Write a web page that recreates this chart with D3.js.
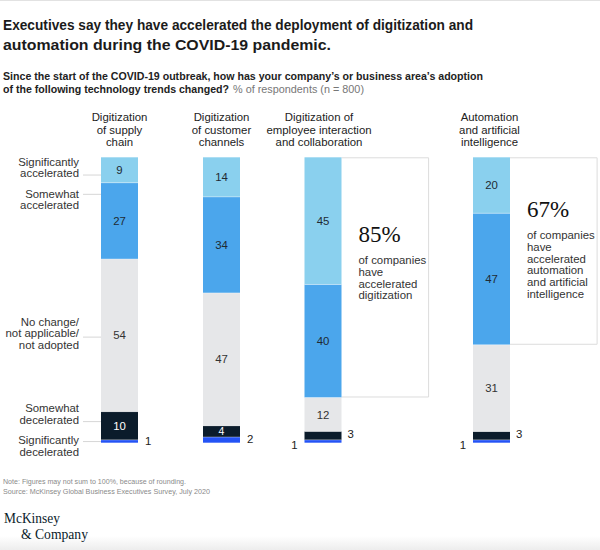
<!DOCTYPE html>
<html><head><meta charset="utf-8">
<script src="https://cdn.jsdelivr.net/npm/d3@7"></script>
<style>
html,body{margin:0;padding:0;background:#fff;}
svg{display:block;font-family:"Liberation Sans",Arial,sans-serif;}
</style></head>
<body>
<svg id="chart" width="600" height="550"></svg>
<script>
// ---------- data ----------
const categories = [
  ["Digitization", "of supply", "chain"],
  ["Digitization", "of customer", "channels"],
  ["Digitization of", "employee interaction", "and collaboration"],
  ["Automation", "and artificial", "intelligence"]
];
const levels = [
  ["Significantly", "accelerated"],
  ["Somewhat", "accelerated"],
  ["No change/", "not applicable/", "not adopted"],
  ["Somewhat", "decelerated"],
  ["Significantly", "decelerated"]
];
const sigAccelerated = [9, 14, 45, 20];
const somAccelerated = [27, 34, 40, 47];
const noChange       = [54, 47, 12, 31];
const somDecelerated = [10, 4, 3, 3];
const sigDecelerated = [1, 2, 1, 1];
const calloutBars = [2, 3];
const calloutText = [
  ["of companies", "have", "accelerated", "digitization"],
  ["of companies", "have", "accelerated", "automation", "and artificial", "intelligence"]
];
const titleLines = [
  "Executives say they have accelerated the deployment of digitization and",
  "automation during the COVID-19 pandemic."
];
const subtitleLine1 = "Since the start of the COVID-19 outbreak, how has your company\u2019s or business area\u2019s adoption";
const subtitleLine2 = "of the following technology trends changed?";
const subtitleUnit = "% of respondents (n = 800)";
const notes = [
  "Note: Figures may not sum to 100%, because of rounding.",
  "Source: McKinsey Global Business Executives Survey, July 2020"
];
const logoLines = ["McKinsey", "& Company"];

// ---------- layout ----------
const series = [sigAccelerated, somAccelerated, noChange, somDecelerated, sigDecelerated];
const colors = ["#8AD0EE", "#4BA6EC", "#E6E7E9", "#0B1C2B", "#2453F5"];
const textColors = ["#1f2a33", "#1f2a33", "#333", "#fff", "#fff"];
const barW = 37;
const barTop = 157.3, barBottom = 442.7;
const svg = d3.select("#chart");

const x = d3.scaleLinear().domain([0, 1, 2, 3]).range([119.5, 221.5, 323, 491.5]);

// stacked order from bottom: sigDec, somDec, noChange, somAcc, sigAcc
const stackOrder = [4, 3, 2, 1, 0];
const bars = categories.map((c, i) => {
  const total = d3.sum(series, s => s[i]);
  const y = d3.scaleLinear().domain([0, total]).range([barBottom, barTop]);
  let cum = 0;
  const segs = {};
  stackOrder.forEach(k => {
    const v = series[k][i];
    segs[k] = {k, v, y0: y(cum), y1: y(cum + v)};
    cum += v;
  });
  return {i, y, segs, total};
});

// top line
svg.append("rect").attr("x", 0).attr("y", 0).attr("width", 600).attr("height", 1).attr("fill", "#e2e2e2");
// bottom strip
const grad = svg.append("defs").append("linearGradient").attr("id", "bg").attr("x1", 0).attr("x2", 0).attr("y1", 0).attr("y2", 1);
grad.append("stop").attr("offset", "0").attr("stop-color", "#fff");
grad.append("stop").attr("offset", "1").attr("stop-color", "#ededed");
svg.append("rect").attr("x", 0).attr("y", 536).attr("width", 600).attr("height", 14).attr("fill", "url(#bg)");

// title
const titleW = [470, 328];
svg.append("g").selectAll("text").data(titleLines).join("text")
  .attr("x", 3).attr("y", (d, i) => 30 + i * 19.5)
  .attr("font-size", 15.5).attr("font-weight", "bold").attr("fill", "#1b1b1b")
  .attr("textLength", (d, i) => titleW[i]).attr("lengthAdjust", "spacingAndGlyphs")
  .text(d => d);

// subtitle
svg.append("text").attr("x", 3).attr("y", 80).attr("font-size", 11.6).attr("font-weight", "bold").attr("fill", "#222")
  .attr("textLength", 480).attr("lengthAdjust", "spacingAndGlyphs")
  .text(subtitleLine1);
const sub2 = svg.append("text").attr("x", 3).attr("y", 93.3).attr("font-size", 10.6).attr("font-weight", "bold").attr("fill", "#222")
  .text(subtitleLine2);
const sub2Len = sub2.node().getComputedTextLength();
svg.append("text").attr("x", 3 + sub2Len + 4).attr("y", 93.3).attr("font-size", 11.6).attr("fill", "#777")
  .attr("textLength", 131).attr("lengthAdjust", "spacingAndGlyphs")
  .text(subtitleUnit);

// column headers
const hdr = svg.append("g").attr("font-size", 11.4).attr("fill", "#222").attr("text-anchor", "middle");
categories.forEach((lines, i) => {
  const cx = x(i) + (i === 2 ? -4 : (i === 3 ? -2 : 0));
  lines.forEach((l, j) => {
    hdr.append("text").attr("x", cx).attr("y", 121 + j * 12.5).text(l);
  });
});

// callout boxes
calloutBars.forEach((b, n) => {
  const bar = bars[b];
  const xl = x(b) + barW / 2;
  const xr = xl + 87.6;
  const yt = bar.y(bar.total);
  const yb = bar.segs[1].y0;
  svg.append("path")
    .attr("d", `M${xl},${yt + 0.5}H${xr - 0.5}V${yb - 0.5}H${xl}`)
    .attr("fill", "none").attr("stroke", "#dcdcdc").attr("stroke-width", 1);
  const pct = sigAccelerated[b] + somAccelerated[b];
  const bigY = n === 0 ? 241.7 : 216.7;
  svg.append("text").attr("x", xl + 17).attr("y", bigY)
    .attr("font-family", "'Liberation Serif','DejaVu Serif',serif").attr("font-size", 23)
    .attr("fill", "#111").text(pct + "%");
  svg.append("g").selectAll("text").data(calloutText[n]).join("text")
    .attr("x", xl + 17).attr("y", (d, j) => bigY + 22.5 + j * 11.7)
    .attr("font-size", 11.4).attr("fill", "#333").text(d => d);
});

// bars
const gBars = svg.append("g");
bars.forEach(bar => {
  stackOrder.forEach(k => {
    const s = bar.segs[k];
    gBars.append("rect")
      .attr("x", x(bar.i) - barW / 2).attr("width", barW)
      .attr("y", s.y1).attr("height", s.y0 - s.y1)
      .attr("fill", colors[k]);
  });
  stackOrder.slice(0, 4).forEach(k => {
    const s = bar.segs[k];
    gBars.append("line").attr("x1", x(bar.i) - barW / 2).attr("x2", x(bar.i) + barW / 2)
      .attr("y1", s.y1).attr("y2", s.y1).attr("stroke", "rgba(255,255,255,0.6)").attr("stroke-width", 0.6);
  });
});

// value labels
const gVals = svg.append("g").attr("font-size", 11.4);
bars.forEach(bar => {
  const cx = x(bar.i);
  let somDecInside = false;
  stackOrder.forEach(k => {
    const s = bar.segs[k];
    const h = s.y0 - s.y1;
    if (k === 4) return;
    if (h >= 10) {
      if (k === 3) somDecInside = true;
      gVals.append("text").attr("x", cx).attr("y", (s.y0 + s.y1) / 2)
        .attr("dy", "0.36em").attr("text-anchor", "middle")
        .attr("font-size", h < 13 ? 10.5 : 11.4)
        .attr("fill", textColors[k]).text(s.v);
    } else {
      gVals.append("text").attr("x", cx + barW / 2 + 6).attr("y", (s.y0 + s.y1) / 2 - 1.5)
        .attr("dy", "0.36em").attr("fill", "#222").text(s.v);
    }
  });
  const sd = bar.segs[4];
  if (somDecInside) {
    gVals.append("text").attr("x", cx + barW / 2 + 7).attr("y", sd.y1 + 1.5)
      .attr("dy", "0.36em").attr("fill", "#222").text(sd.v);
  } else {
    gVals.append("text").attr("x", cx - barW / 2 - 7).attr("y", sd.y0 + 2)
      .attr("dy", "0.36em").attr("text-anchor", "end").attr("fill", "#222").text(sd.v);
  }
});

// left level labels with leader lines
const b0 = bars[0];
const leaderY = [
  b0.segs[0].y0 - 7.7,
  b0.segs[1].y1 + 11.6,
  (b0.segs[2].y0 + b0.segs[2].y1) / 2 + 1.8,
  b0.segs[3].y1 + 10,
  b0.segs[4].y1 + 1.7
];
const firstBaseline = [165.5, 197.5, 325.5, 412, 444];
const gLab = svg.append("g").attr("font-size", 11.4).attr("fill", "#333").attr("text-anchor", "end");
levels.forEach((lines, k) => {
  svg.append("line").attr("x1", 83).attr("x2", x(0) - barW / 2)
    .attr("y1", leaderY[k]).attr("y2", leaderY[k]).attr("stroke", "#d6d6d6").attr("stroke-width", 1);
  lines.forEach((l, j) => {
    gLab.append("text").attr("x", 79).attr("y", firstBaseline[k] + j * 11.7).text(l);
  });
});

// notes
svg.append("g").selectAll("text").data(notes).join("text")
  .attr("x", 3).attr("y", (d, i) => 483.5 + i * 10.5)
  .attr("font-size", 7.6).attr("fill", "#8a8a8a")
  .attr("textLength", (d, i) => i === 0 ? 183 : 207).attr("lengthAdjust", "spacingAndGlyphs")
  .text(d => d);

// logo
const logoX = [4, 21], logoY = [522.5, 539], logoW = [56, 67];
svg.append("g").attr("font-family", "'Liberation Serif','DejaVu Serif',serif").attr("fill", "#0b1c2b")
  .selectAll("text").data(logoLines).join("text")
  .attr("x", (d, i) => logoX[i]).attr("y", (d, i) => logoY[i]).attr("font-size", 15)
  .attr("textLength", (d, i) => logoW[i]).attr("lengthAdjust", "spacingAndGlyphs")
  .text(d => d);
</script>
</body></html>
